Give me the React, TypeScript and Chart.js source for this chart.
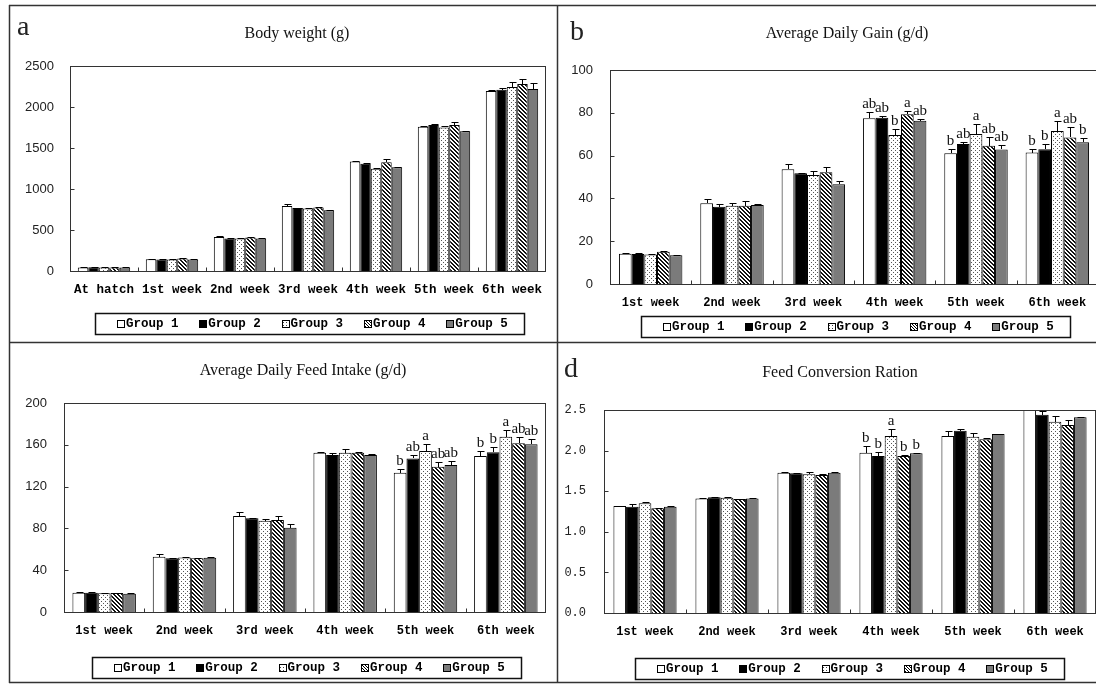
import React, { useEffect, useRef } from 'react';
import { Chart, registerables } from 'chart.js';

Chart.register(...registerables);

// ---------- data ----------
const groupNames = ['Group 1', 'Group 2', 'Group 3', 'Group 4', 'Group 5'];

// a) Body weight (g)
const bwCategories = ['At hatch', '1st week', '2nd week', '3rd week', '4th week', '5th week', '6th week'];
const bwG1 = [42, 142, 415, 793, 1335, 1760, 2196];
const bwG2 = [45, 140, 397, 769, 1307, 1780, 2209];
const bwG3 = [42, 140, 397, 761, 1246, 1751, 2245];
const bwG4 = [43, 152, 408, 773, 1327, 1780, 2282];
const bwG5 = [44, 140, 397, 740, 1266, 1703, 2220];
const bwErr1 = [3, 4, 8, 28, 8, 6, 8];
const bwErr2 = [2, 3, 4, 5, 6, 8, 24];
const bwErr3 = [3, 3, 4, 6, 6, 21, 61];
const bwErr4 = [2, 10, 8, 12, 41, 32, 60];
const bwErr5 = [2, 4, 3, 6, 5, 5, 74];

// b) Average daily gain (g/d)
const weekCategories = ['1st week', '2nd week', '3rd week', '4th week', '5th week', '6th week'];
const adgG1 = [14.1, 37.7, 53.6, 77.4, 61.1, 61.4];
const adgG2 = [14.0, 36.1, 51.7, 77.7, 65.4, 63.0];
const adgG3 = [13.8, 36.6, 50.9, 69.6, 70.1, 71.5];
const adgG4 = [15.1, 36.6, 52.2, 79.3, 64.6, 68.5];
const adgG5 = [13.4, 36.9, 46.6, 76.3, 62.9, 66.2];
const adgErr1 = [0.5, 1.9, 2.3, 2.8, 2.0, 1.6];
const adgErr2 = [0.4, 1.2, 0.4, 0.9, 0.8, 2.4];
const adgErr3 = [0.4, 1.3, 2.0, 2.7, 4.7, 4.8];
const adgErr4 = [0.5, 2.2, 2.6, 1.5, 4.2, 4.7];
const adgErr5 = [0.3, 0.4, 1.7, 0.8, 2.1, 1.9];
const adgSig1 = ['', '', '', 'ab', 'b', 'b'];
const adgSig2 = ['', '', '', 'ab', 'ab', 'b'];
const adgSig3 = ['', '', '', 'b', 'a', 'a'];
const adgSig4 = ['', '', '', 'a', 'ab', 'ab'];
const adgSig5 = ['', '', '', 'ab', 'ab', 'b'];

// c) Average daily feed intake (g/d)
const adfiG1 = [18.5, 52.9, 91.9, 152.4, 133.3, 149.3];
const adfiG2 = [18.5, 51.4, 89.7, 150.2, 147.0, 152.8];
const adfiG3 = [17.9, 52.2, 87.4, 152.4, 154.0, 167.8];
const adfiG4 = [18.2, 51.4, 88.0, 152.4, 139.0, 161.4];
const adfiG5 = [17.5, 51.8, 80.7, 150.2, 140.7, 160.5];
const adfiErr1 = [0.5, 2.6, 4.1, 0.6, 3.5, 4.7];
const adfiErr2 = [0.4, 0.5, 0.6, 2.0, 3.2, 4.8];
const adfiErr3 = [0.5, 0.7, 1.6, 3.3, 6.8, 6.4];
const adfiErr4 = [0.4, 0.5, 3.9, 0.6, 4.8, 6.4];
const adfiErr5 = [0.3, 0.4, 3.5, 0.6, 3.8, 4.8];
const adfiSig1 = ['', '', '', '', 'b', 'b'];
const adfiSig2 = ['', '', '', '', 'ab', 'b'];
const adfiSig3 = ['', '', '', '', 'a', 'a'];
const adfiSig4 = ['', '', '', '', 'ab', 'ab'];
const adfiSig5 = ['', '', '', '', 'ab', 'ab'];

// d) Feed conversion ratio
const fcrG1 = [1.318, 1.41, 1.728, 1.974, 2.18, 2.62];
const fcrG2 = [1.31, 1.425, 1.72, 1.933, 2.245, 2.44];
const fcrG3 = [1.351, 1.42, 1.708, 2.18, 2.17, 2.356];
const fcrG4 = [1.289, 1.405, 1.7, 1.933, 2.139, 2.315];
const fcrG5 = [1.31, 1.41, 1.728, 1.967, 2.205, 2.41];
const fcrErr1 = [0.005, 0.004, 0.01, 0.083, 0.06, 0];
const fcrErr2 = [0.03, 0.005, 0.005, 0.047, 0.025, 0.05];
const fcrErr3 = [0.01, 0.006, 0.032, 0.082, 0.05, 0.07];
const fcrErr4 = [0.01, 0.005, 0.01, 0.017, 0.021, 0.062];
const fcrErr5 = [0.008, 0.004, 0.008, 0.008, 0.004, 0.006];
const fcrSig1 = ['', '', '', 'b', '', ''];
const fcrSig2 = ['', '', '', 'b', '', ''];
const fcrSig3 = ['', '', '', 'a', '', ''];
const fcrSig4 = ['', '', '', 'b', '', ''];
const fcrSig5 = ['', '', '', 'b', '', ''];

// ---------- styles / layout ----------
const MONO = '"Liberation Mono", "DejaVu Sans Mono", monospace';
const SERIF = '"Liberation Serif", "DejaVu Serif", serif';
const SANS = '"Liberation Sans", Arial, sans-serif';
const GREY5 = '#7b7b7b';

type Spec = {
  cx: number; cy: number; cw: number; ch: number;
  L: number; T: number; R: number; B: number;
  categories: string[];
  series: number[][];
  errors: number[][];
  letters: string[][] | null;
  max: number; step: number; decimals: number;
  yFamily: string; ySize: number; yPad: number;
  xPad: number; xSize: number; catPct: number;
};

const panels: Spec[] = [
  {
    cx: 10, cy: 6, cw: 547, ch: 336, L: 70, T: 66, R: 546, B: 271,
    categories: bwCategories,
    series: [bwG1, bwG2, bwG3, bwG4, bwG5],
    errors: [bwErr1, bwErr2, bwErr3, bwErr4, bwErr5],
    letters: null,
    max: 2500, step: 500, decimals: 0,
    yFamily: SANS, ySize: 13, yPad: 16, xPad: 11, xSize: 12.5, catPct: 0.77,
  },
  {
    cx: 558, cy: 6, cw: 560, ch: 336, L: 610, T: 70, R: 1098, B: 284,
    categories: weekCategories,
    series: [adgG1, adgG2, adgG3, adgG4, adgG5],
    errors: [adgErr1, adgErr2, adgErr3, adgErr4, adgErr5],
    letters: [adgSig1, adgSig2, adgSig3, adgSig4, adgSig5],
    max: 100, step: 20, decimals: 0,
    yFamily: SANS, ySize: 13, yPad: 17, xPad: 12, xSize: 12, catPct: 0.78,
  },
  {
    cx: 10, cy: 343, cw: 547, ch: 339, L: 64, T: 403, R: 546, B: 612,
    categories: weekCategories,
    series: [adfiG1, adfiG2, adfiG3, adfiG4, adfiG5],
    errors: [adfiErr1, adfiErr2, adfiErr3, adfiErr4, adfiErr5],
    letters: [adfiSig1, adfiSig2, adfiSig3, adfiSig4, adfiSig5],
    max: 200, step: 40, decimals: 0,
    yFamily: SANS, ySize: 13, yPad: 17, xPad: 12, xSize: 12, catPct: 0.79,
  },
  {
    cx: 558, cy: 343, cw: 560, ch: 339, L: 604, T: 410, R: 1096, B: 613,
    categories: weekCategories,
    series: [fcrG1, fcrG2, fcrG3, fcrG4, fcrG5],
    errors: [fcrErr1, fcrErr2, fcrErr3, fcrErr4, fcrErr5],
    letters: [fcrSig1, fcrSig2, fcrSig3, fcrSig4, fcrSig5],
    max: 2.5, step: 0.5, decimals: 1,
    yFamily: MONO, ySize: 12, yPad: 18, xPad: 12, xSize: 12, catPct: 0.77,
  },
];

const titles = [
  { text: 'Body weight (g)', x: 297, y: 32 },
  { text: 'Average Daily Gain (g/d)', x: 847, y: 32 },
  { text: 'Average Daily Feed Intake (g/d)', x: 303, y: 369 },
  { text: 'Feed Conversion Ration', x: 840, y: 371 },
];
const panelLetters = [
  { text: 'a', x: 17, y: 35 },
  { text: 'b', x: 570, y: 40 },
  { text: 'd', x: 564, y: 377 },
];
const legendBoxes = [
  { x: 95, y: 313 },
  { x: 641, y: 316 },
  { x: 92, y: 657 },
  { x: 635, y: 658 },
];

function makeFills(ctx: CanvasRenderingContext2D): (string | CanvasPattern)[] {
  const dots = document.createElement('canvas');
  dots.width = 4; dots.height = 4;
  const d = dots.getContext('2d')!;
  d.fillStyle = '#fff'; d.fillRect(0, 0, 4, 4);
  d.fillStyle = '#555';
  d.fillRect(1, 0, 1, 1); d.fillRect(3, 2, 1, 1);
  const hatch = document.createElement('canvas');
  hatch.width = 4; hatch.height = 4;
  const h = hatch.getContext('2d')!;
  h.fillStyle = '#fff'; h.fillRect(0, 0, 4, 4);
  h.fillStyle = '#111';
  for (let i = 0; i < 4; i++) {
    h.fillRect(i, i, 1, 1);
    h.fillRect((i + 1) % 4, i, 1, 1);
  }
  return [
    '#ffffff',
    '#000000',
    ctx.createPattern(dots, 'repeat')!,
    ctx.createPattern(hatch, 'repeat')!,
    GREY5,
  ];
}

const extrasPlugin = {
  id: 'extras',
  afterDraw(chart: any, _args: any, opts: any) {
    const { ctx, chartArea: ca } = chart;
    const xs = chart.scales.x;
    const ys = chart.scales.y;
    const L = Math.round(ca.left) + 0.5;
    const R = Math.round(ca.right) - 0.5;
    const T = Math.round(ca.top) + 0.5;
    const B = Math.round(ca.bottom) + 0.5;
    const line = (x1: number, y1: number, x2: number, y2: number) => {
      ctx.beginPath(); ctx.moveTo(x1, y1); ctx.lineTo(x2, y2); ctx.stroke();
    };
    ctx.save();
    ctx.lineWidth = 1;
    // error bars
    ctx.save();
    ctx.beginPath();
    ctx.rect(ca.left, ca.top, ca.right - ca.left, ca.bottom - ca.top);
    ctx.clip();
    ctx.strokeStyle = '#000';
    chart.data.datasets.forEach((ds: any, i: number) => {
      const meta = chart.getDatasetMeta(i);
      meta.data.forEach((el: any, j: number) => {
        const e = opts.errors[i][j];
        if (!e) return;
        const v = ds.data[j];
        const x = Math.round(el.x) + 0.5;
        const y0 = Math.round(ys.getPixelForValue(v));
        const y1 = Math.round(ys.getPixelForValue(v + e)) + 0.5;
        line(x, y0, x, y1);
        line(x - 3, y1, x + 4, y1);
      });
    });
    ctx.restore();
    // plot frame
    ctx.strokeStyle = '#333';
    ctx.strokeRect(L, T, R - L, B - T);
    ys.ticks.forEach((t: any) => {
      const py = Math.round(ys.getPixelForValue(t.value)) + 0.5;
      line(L, py, L + 4, py);
    });
    const n = xs.getLabels().length;
    for (let i = 1; i < n; i++) {
      const px = Math.round((xs.getPixelForValue(i - 1) + xs.getPixelForValue(i)) / 2) + 0.5;
      line(px, B, px, B - 4);
    }
    // significance letters
    if (opts.letters) {
      ctx.fillStyle = '#111';
      ctx.font = '15px ' + SERIF;
      ctx.textAlign = 'center';
      ctx.textBaseline = 'alphabetic';
      chart.data.datasets.forEach((ds: any, i: number) => {
        const meta = chart.getDatasetMeta(i);
        meta.data.forEach((el: any, j: number) => {
          const s = opts.letters[i][j];
          if (!s) return;
          const top = ys.getPixelForValue(ds.data[j] + (opts.errors[i][j] || 0));
          ctx.fillText(s, el.x, top - 4);
        });
      });
    }
    ctx.restore();
  },
};

function Panel({ spec }: { spec: Spec }) {
  const ref = useRef<HTMLCanvasElement>(null);
  useEffect(() => {
    const canvas = ref.current!;
    const ctx = canvas.getContext('2d')!;
    const fills = makeFills(ctx);
    const chart = new Chart(canvas, {
      type: 'bar',
      data: {
        labels: spec.categories,
        datasets: spec.series.map((d, i) => ({
          label: groupNames[i],
          data: d,
          backgroundColor: fills[i] as any,
          borderColor: '#000',
          borderWidth: 1,
          categoryPercentage: spec.catPct,
          barPercentage: 1,
        })),
      },
      options: {
        responsive: false,
        animation: false,
        devicePixelRatio: 1,
        events: [],
        layout: {
          padding: {
            left: 0,
            top: spec.T - spec.cy,
            right: spec.cx + spec.cw - spec.R,
            bottom: 0,
          },
        },
        plugins: {
          legend: { display: false },
          tooltip: { enabled: false },
          title: { display: false },
          extras: { errors: spec.errors, letters: spec.letters },
        } as any,
        scales: {
          x: {
            type: 'category',
            offset: true,
            grid: { display: false, drawTicks: false },
            border: { display: false },
            ticks: {
              autoSkip: false,
              maxRotation: 0,
              minRotation: 0,
              padding: spec.xPad,
              color: '#000',
              font: { family: MONO, size: spec.xSize, weight: 'bold' },
            },
            afterFit: (s: any) => { s.height = spec.cy + spec.ch - spec.B; },
          },
          y: {
            min: 0,
            max: spec.max,
            grid: { display: false, drawTicks: false },
            border: { display: false },
            ticks: {
              stepSize: spec.step,
              autoSkip: false,
              padding: spec.yPad,
              color: '#222',
              font: { family: spec.yFamily, size: spec.ySize },
              callback: (v: any) => Number(v).toFixed(spec.decimals),
            },
            afterFit: (s: any) => { s.width = spec.L - spec.cx; },
          },
        },
      },
      plugins: [extrasPlugin as any],
    });
    return () => chart.destroy();
  }, [spec]);
  return (
    <canvas
      ref={ref}
      width={spec.cw}
      height={spec.ch}
      style={{ position: 'absolute', left: spec.cx, top: spec.cy, width: spec.cw, height: spec.ch }}
    />
  );
}

const swatchFills = ['#ffffff', '#000000', 'url(#dotsPat)', 'url(#hatchPat)', GREY5];

export default function App() {
  return (
    <div style={{ position: 'fixed', left: 0, top: 0, width: 1096, height: 685, overflow: 'hidden', background: '#fff' }}>
      {panels.map((p, i) => <Panel key={i} spec={p} />)}
      <svg width={1096} height={685} style={{ position: 'absolute', left: 0, top: 0, pointerEvents: 'none' }}>
        <defs>
          <pattern id="dotsPat" width="3" height="3" patternUnits="userSpaceOnUse">
            <rect width="3" height="3" fill="#fff" />
            <rect x="1" y="1" width="1" height="1" fill="#444" />
          </pattern>
          <pattern id="hatchPat" width="3" height="3" patternUnits="userSpaceOnUse">
            <rect width="3" height="3" fill="#fff" />
            <path d="M0,0 L3,3 M-1,2 L1,4 M2,-1 L4,1" stroke="#000" strokeWidth="1" />
          </pattern>
        </defs>
        <path
          d="M9,5.5 H1100 M9.5,5 V683 M9,682.5 H1100 M557.5,5 V683 M9,342.5 H1100"
          stroke="#333" strokeWidth={1.5} fill="none"
        />
        {titles.map((t, i) => (
          <text key={'t' + i} x={t.x} y={t.y} textAnchor="middle" dominantBaseline="central"
            fontFamily={SERIF} fontSize={16} fill="#111">{t.text}</text>
        ))}
        {panelLetters.map((t, i) => (
          <text key={'l' + i} x={t.x} y={t.y} fontFamily={SERIF} fontSize={28} fill="#222">{t.text}</text>
        ))}
        {legendBoxes.map((b, bi) => (
          <g key={'g' + bi}>
            <rect x={b.x + 0.5} y={b.y + 0.5} width={429} height={21} fill="#fff" stroke="#111" strokeWidth={1.5} />
            {groupNames.map((name, i) => {
              const ix = b.x + 22 + i * 82.3;
              const cy = b.y + 11;
              return (
                <g key={name}>
                  <rect x={Math.round(ix) + 0.5} y={cy - 3.5} width={7} height={7} fill={swatchFills[i]} stroke="#000" strokeWidth={1} />
                  <text x={ix + 9} y={cy} dominantBaseline="central" fontFamily={MONO} fontWeight="bold" fontSize={12.5} fill="#000">{name}</text>
                </g>
              );
            })}
          </g>
        ))}
      </svg>
    </div>
  );
}
